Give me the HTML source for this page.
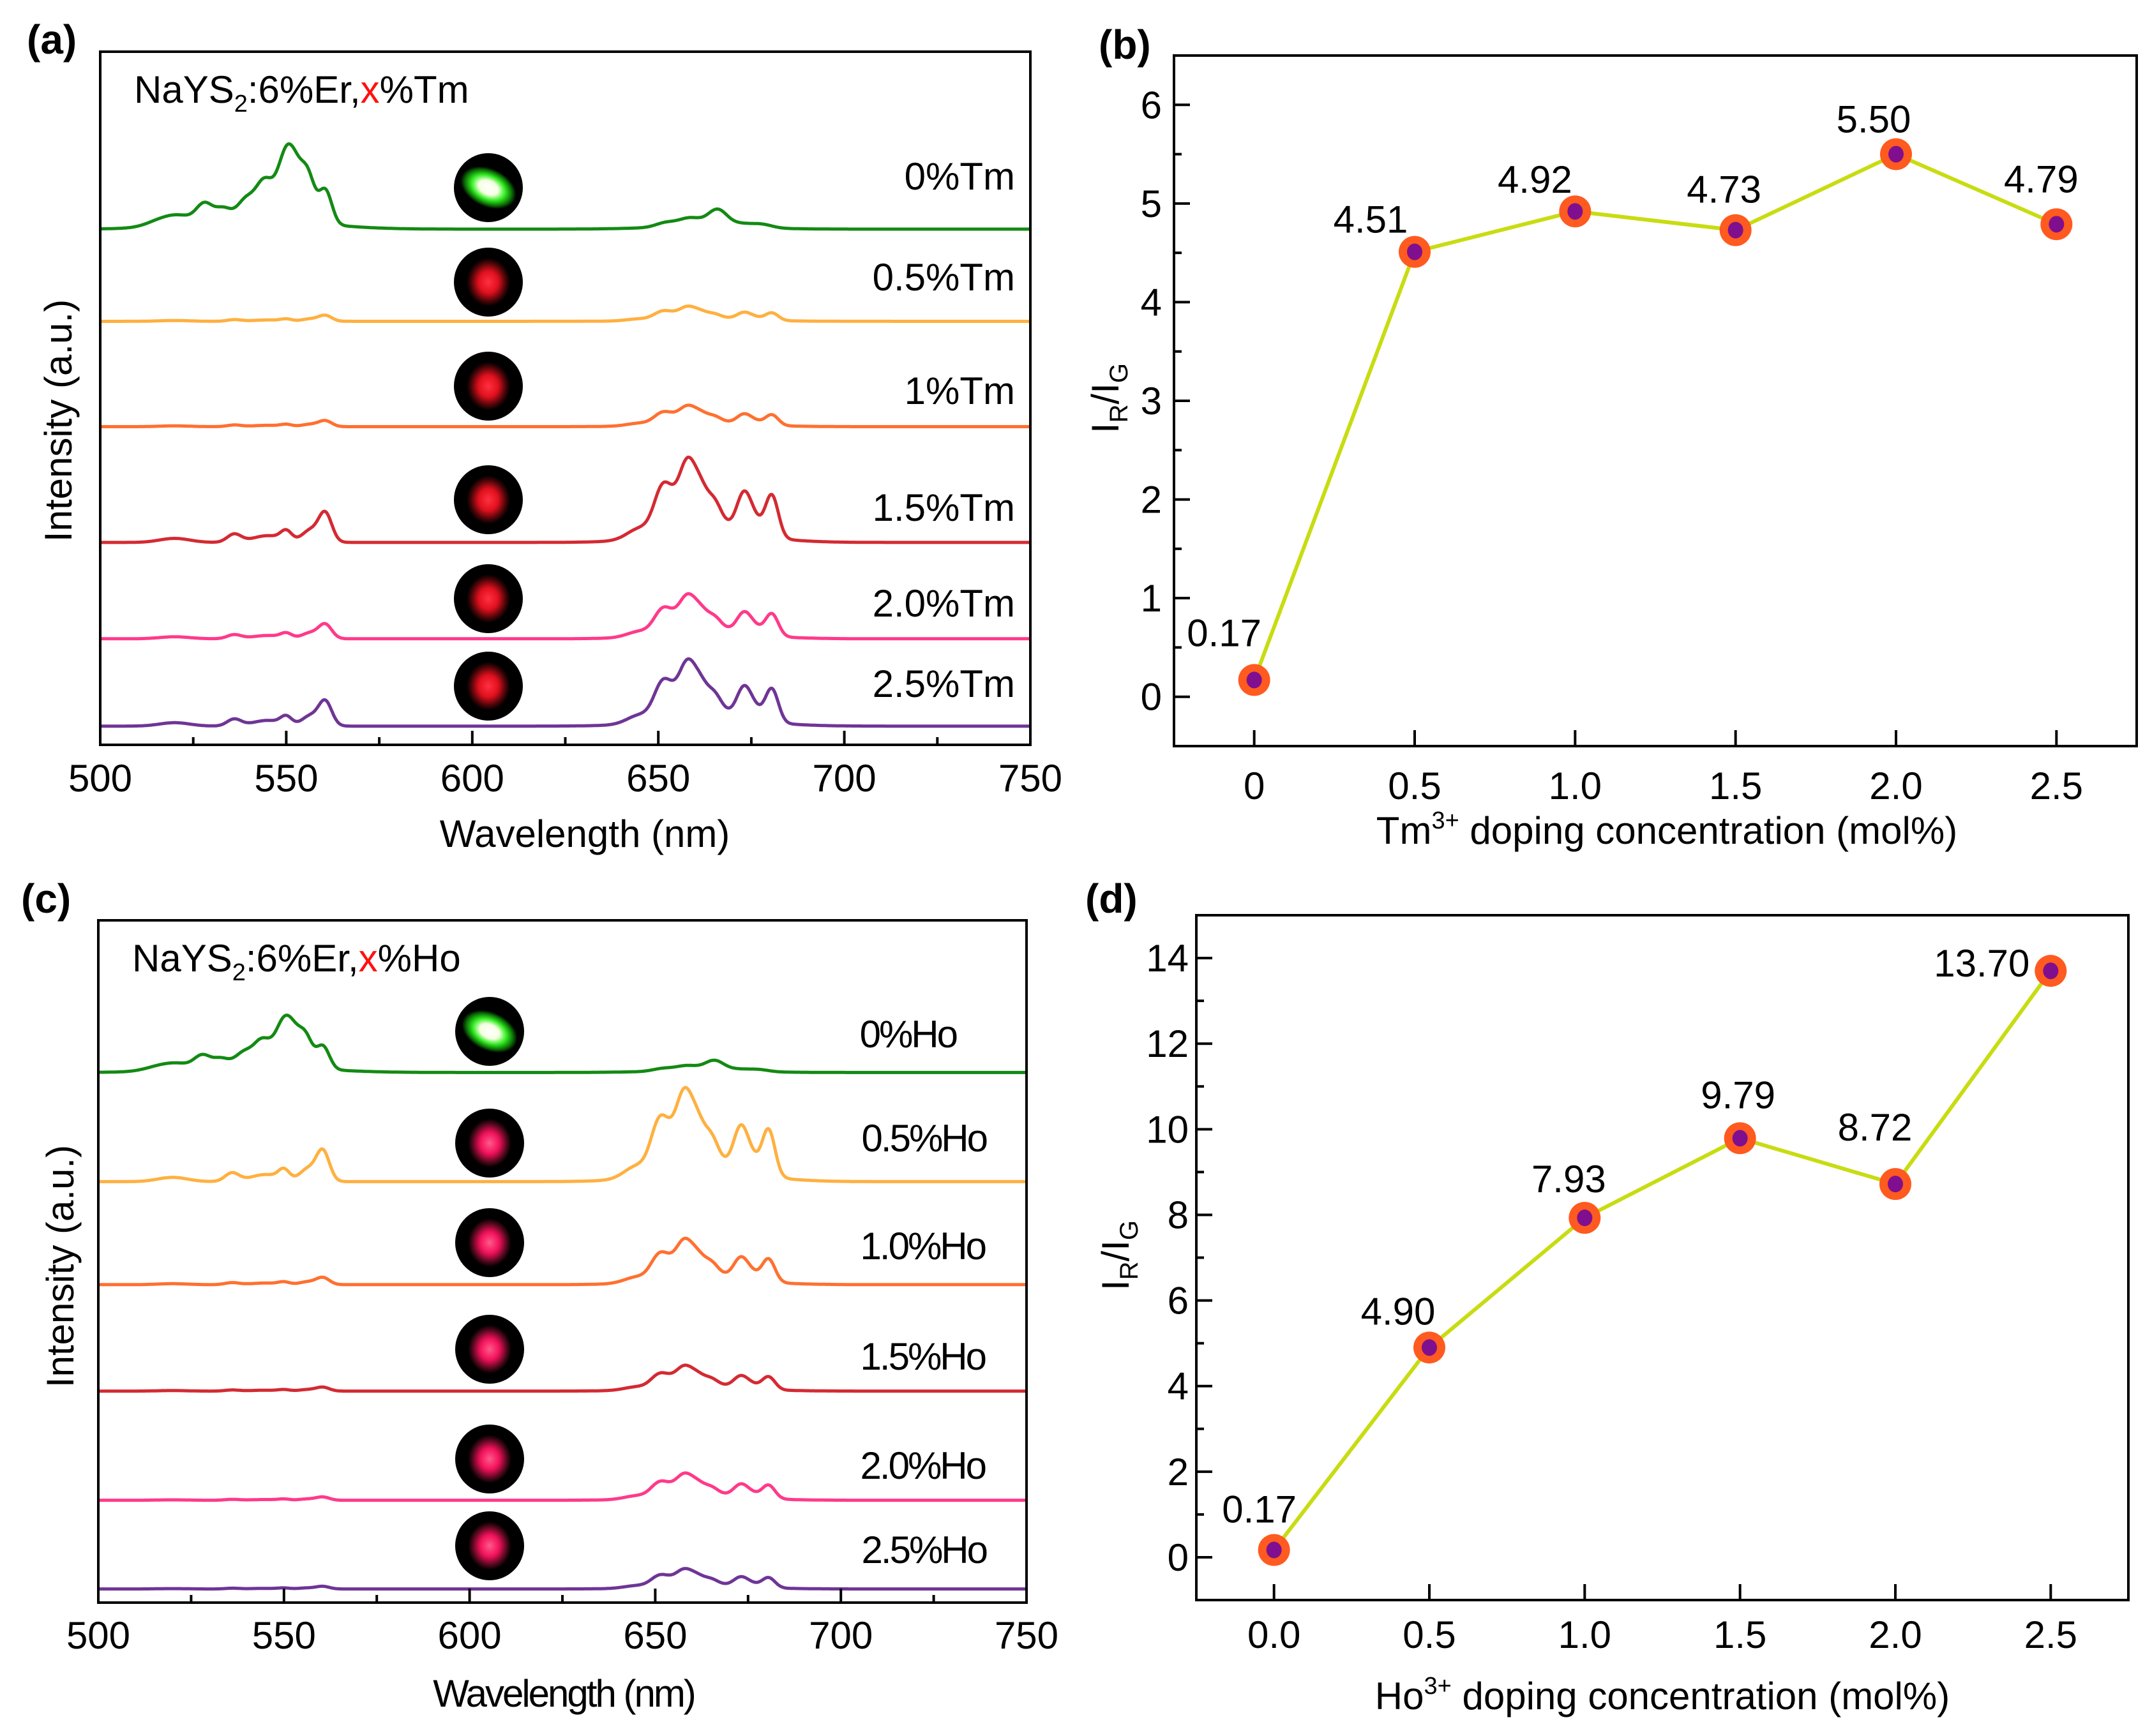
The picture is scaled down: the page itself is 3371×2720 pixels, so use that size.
<!DOCTYPE html>
<html><head><meta charset="utf-8"><style>
html,body{margin:0;padding:0;background:#fff;}
svg{display:block;font-family:"Liberation Sans",Arial,sans-serif;}
</style></head><body>
<svg id="fig" width="3371" height="2720" viewBox="0 0 3371 2720" xmlns="http://www.w3.org/2000/svg">
<defs>
<radialGradient id="gGreen" cx="50%" cy="50%" r="50%">
<stop offset="0" stop-color="#ffffff"/><stop offset="0.35" stop-color="#f4ffe0"/><stop offset="0.6" stop-color="#33ee22"/><stop offset="0.85" stop-color="#0a6a05"/><stop offset="1" stop-color="#000"/>
</radialGradient>
<radialGradient id="gRed" cx="50%" cy="50%" r="50%">
<stop offset="0" stop-color="#ff3040"/><stop offset="0.45" stop-color="#e0101e"/><stop offset="0.8" stop-color="#4a0508"/><stop offset="1" stop-color="#000"/>
</radialGradient>
<radialGradient id="gPink" cx="50%" cy="50%" r="50%">
<stop offset="0" stop-color="#ff5a8a"/><stop offset="0.45" stop-color="#f0105a"/><stop offset="0.8" stop-color="#50081c"/><stop offset="1" stop-color="#000"/>
</radialGradient>
</defs>
</svg>
<script>
// ---------- Panel a/c spectra data ----------
const waveTicks = [500, 550, 600, 650, 700, 750];
const tmLabels = ["0%Tm", "0.5%Tm", "1%Tm", "1.5%Tm", "2.0%Tm", "2.5%Tm"];
const tmBaseline = [74.4, 61.1, 45.9, 29.2, 15.3, 2.7];
const tmGreenAmp = [12.3, 0.9, 0.9, 4.5, 2.2, 3.8];
const tmRedAmp = [2.9, 2.2, 3.1, 12.3, 6.5, 9.7];
const tmType = ["G", "R", "R", "R", "R", "R"];
const hoLabels = ["0%Ho", "0.5%Ho", "1.0%Ho", "1.5%Ho", "2.0%Ho", "2.5%Ho"];
const hoBaseline = [77.7, 61.7, 46.6, 31.0, 15.0, 2.0];
const hoGreenAmp = [8.4, 4.8, 1.1, 0.6, 0.5, 0.4];
const hoRedAmp = [1.8, 13.8, 6.8, 3.8, 4.0, 3.0];
const hoType = ["G", "R", "R", "R", "R", "R"];
const specColors = ["#138a13", "#ffb040", "#ff7030", "#d42a32", "#ff3a8a", "#6e3596"];
// peak profiles: [center nm, relative height, sigma]
const greenProfileG = [[517,0.12,3],[522,0.1,2.5],[528,0.3,1.6],[533,0.2,1.6],[539,0.25,1.6],[544,0.4,1.6],[547,0.3,4],[550,0.8,1.6],[553,0.5,1.5],[556,0.6,1.3],[560.5,0.55,1.3],[542,0.15,12]];
const redProfileG = [[652,0.25,2],[658,0.3,2],[661,0.25,3],[666,0.85,1.8],[672,0.2,2.5],[678,0.18,2],[662,0.15,10]];
const greenProfileR = [[520,0.15,3],[536,0.3,1.4],[545,0.25,3],[550,0.35,1.1],[556,0.22,1.4],[557.5,0.25,2],[560.5,1.0,1.3]];
const redProfileR = [[645,0.16,2.5],[651,0.6,1.7],[654.5,0.35,2],[658,0.9,1.6],[661.5,0.5,1.4],[665,0.36,1.4],[668,0.12,2.5],[673,0.56,1.4],[676,0.2,1.4],[680.5,0.64,1.3],[664,0.14,10]];
const imgTypesTm = ["gGreen","gRed","gRed","gRed","gRed","gRed"];
const imgTypesHo = ["gGreen","gPink","gPink","gPink","gPink","gPink"];
const sigmaScale = 1.35;
// ---------- Panel b/d ratio data ----------
const concTicksB = ["0","0.5","1.0","1.5","2.0","2.5"];
const concTicksD = ["0.0","0.5","1.0","1.5","2.0","2.5"];
const concX = [0, 0.5, 1.0, 1.5, 2.0, 2.5];
const tmRatio = [0.17, 4.51, 4.92, 4.73, 5.50, 4.79];
const hoRatio = [0.17, 4.90, 7.93, 9.79, 8.72, 13.70];
const yTicksB = [0,1,2,3,4,5,6];
const yTicksD = [0,2,4,6,8,10,12,14];

const NS = "http://www.w3.org/2000/svg";
const svg = document.getElementById("fig");
function el(tag, attrs, parent, text){
  const e = document.createElementNS(NS, tag);
  for (const k in attrs) e.setAttribute(k, attrs[k]);
  if (text !== undefined) e.textContent = text;
  (parent || svg).appendChild(e);
  return e;
}
function gauss(x, p){ let s=0; for (const q of p){ const d=(x-q[0])/(q[2]*sigmaScale); s+=q[1]*Math.exp(-0.5*d*d);} return s; }

function spectraPanel(o){
  const g = el("g", {});
  
  
  const L=o.box[0], T=o.box[1], R=o.box[2], B=o.box[3];
  const xs = w => L + (w-500)/250*(R-L);
  const ys = v => B - v/100*(B-T);
  for (let i=0;i<o.base.length;i++){
    const gp = o.type[i]==="G" ? greenProfileG : greenProfileR;
    const rp = o.type[i]==="G" ? redProfileG : redProfileR;
    const gmax = Math.max(...Array.from({length:700},(_,k)=>gauss(505+k*0.1,gp)));
    const rmax = Math.max(...Array.from({length:700},(_,k)=>gauss(630+k*0.1,rp)));
    let d="";
    for (let w=500; w<=750; w+=0.25){
      const v = o.base[i] + o.gAmp[i]*gauss(w,gp)/gmax + o.rAmp[i]*gauss(w,rp)/rmax;
      d += (d?"L":"M")+xs(w).toFixed(1)+" "+ys(v).toFixed(1);
    }
    const p = el("path", {d:d, fill:"none", stroke:specColors[i], "stroke-width":5, "stroke-linejoin":"round"}, g);
    
    
    const c = el("circle", {cx:o.imgX, cy:o.imgY[i], r:54, fill:"#000"}, g);
    
    
    const glow = el("ellipse", {cx:o.imgX, cy:o.imgY[i], rx: o.imgT[i]==="gGreen"?46:34, ry: o.imgT[i]==="gGreen"?30:38, fill:"url(#"+o.imgT[i]+")", transform: o.imgT[i]==="gGreen"?("rotate(25 "+o.imgX+" "+o.imgY[i]+")"):""}, g);
    
    
    const t = el("text", {x:o.labX[i], y:o.labY[i]+21, "text-anchor":"end", "font-size":60, fill:"#000", "letter-spacing": o.ls}, g, o.labels[i]);
    
    
  }
  const box = el("rect", {x:L, y:T, width:R-L, height:B-T, fill:"none", stroke:"#000", "stroke-width":4}, g);
  
  
  for (let w=500; w<=750; w+=25){
    const major = (w%50===0);
    const tk = el("line", {x1:xs(w), x2:xs(w), y1:B, y2:B-(major?22:12), stroke:"#000", "stroke-width":4}, g);
    
    
  }
  for (const w of waveTicks){
    const t = el("text", {x:xs(w), y:o.tickY, "text-anchor":"middle", "font-size":60}, g, String(w));
    
    
  }
  const xt = el("text", {x:o.xtX, y:o.xtY, "text-anchor":"middle", "font-size":60, "letter-spacing":o.ls}, g, "Wavelength (nm)");
  
  
  const yt = el("text", {x:0, y:0, "text-anchor":"middle", "font-size":60, transform:"translate("+o.ytX+" "+o.ytY+") rotate(-90)"}, g, "Intensity (a.u.)");
  
  
  const pl = el("text", {x:o.plX, y:o.plY, "font-size":64, "font-weight":"bold"}, g, o.panel);
  
  
  const cmp = el("text", {x:L+53, y:o.cmpY, "font-size":60}, g);
  
  
  el("tspan", {}, cmp, "NaYS");
  el("tspan", {"font-size":38, dy:14}, cmp, "2");
  el("tspan", {dy:-14}, cmp, ":6%Er,");
  el("tspan", {fill:"#ff1010"}, cmp, "x");
  el("tspan", {}, cmp, o.dopant);
}

spectraPanel({name:"panel-a-spectra", panel:"(a)", box:[157,81,1614,1167], base:tmBaseline, gAmp:tmGreenAmp, rAmp:tmRedAmp, type:tmType, labels:tmLabels,
  imgX:765, imgY:[294,442,605,783,938,1075], imgT:imgTypesTm, labX:[1590,1590,1590,1590,1590,1590], labY:[276,434,612,795,945,1071],
  tickY:1240, xtX:916, xtY:1327, ytX:112, ytY:659, plX:42, plY:84, cmpY:161, dopant:"%Tm", ls:0});
spectraPanel({name:"panel-c-spectra", panel:"(c)", box:[154,1442,1608,2511], base:hoBaseline, gAmp:hoGreenAmp, rAmp:hoRedAmp, type:hoType, labels:hoLabels,
  imgX:767, imgY:[1616,1791,1947,2114,2286,2422], imgT:imgTypesHo, labX:[1498,1545,1543,1543,1543,1545], labY:[1620,1783,1952,2125,2296,2428],
  tickY:2583, xtX:883, xtY:2674, ytX:115, ytY:1984, plX:33, plY:1430, cmpY:1522, dopant:"%Ho", ls:-3});

function ratioPanel(o){
  const g = el("g", {});
  
  
  const L=o.box[0], T=o.box[1], R=o.box[2], B=o.box[3];
  const xs = v => L + (v-o.xr[0])/(o.xr[1]-o.xr[0])*(R-L);
  const ys = v => B - (v-o.yr[0])/(o.yr[1]-o.yr[0])*(B-T);
  const box = el("rect", {x:L, y:T, width:R-L, height:B-T, fill:"none", stroke:"#000", "stroke-width":4}, g);
  
  
  for (let v=o.yTicks[0]; v<=o.yTicks[o.yTicks.length-1]; v+=o.minor){
    const major = o.yTicks.includes(Math.round(v*100)/100);
    const tk = el("line", {x1:L, x2:L+(major?25:12), y1:ys(v), y2:ys(v), stroke:"#000", "stroke-width":4}, g);
    
    
  }
  const extra = o.yTicks[o.yTicks.length-1]+o.minor;
  if (extra < o.yr[1]) { const tk=el("line",{x1:L,x2:L+12,y1:ys(extra),y2:ys(extra),stroke:"#000","stroke-width":4},g);   }
  for (const v of o.yTicks){
    const t = el("text", {x:o.ylabX, y:ys(v)+21, "text-anchor":"end", "font-size":60}, g, String(v));
    
    
  }
  for (let i=0;i<concX.length;i++){
    const tk = el("line", {x1:xs(concX[i]), x2:xs(concX[i]), y1:B, y2:B-25, stroke:"#000", "stroke-width":4}, g);
    
    
    const t = el("text", {x:xs(concX[i]), y:o.tickY, "text-anchor":"middle", "font-size":60}, g, o.xTicks[i]);
    
    
  }
  const pts = concX.map((c,i)=>xs(c).toFixed(1)+","+ys(o.vals[i]).toFixed(1)).join(" ");
  const ln = el("polyline", {points:pts, fill:"none", stroke:"#c8dc12", "stroke-width":6}, g);
  
  
  for (let i=0;i<concX.length;i++){
    const cx=xs(concX[i]), cy=ys(o.vals[i]);
    const m = el("circle", {cx:cx, cy:cy, r:25, fill:"#ff5a1f"}, g);
    
    
    const m2 = el("ellipse", {cx:cx, cy:cy, rx:12, ry:13, fill:"#7f0f8f"}, g);
    
    
    const t = el("text", {x:cx+o.off[i][0], y:cy+o.off[i][1]+21, "text-anchor":"middle", "font-size":60}, g, o.vals[i].toFixed(2));
    
    
  }
  const xt = el("text", {x:o.xtX, y:o.xtY, "text-anchor":"middle", "font-size":60}, g);
  
  
  el("tspan", {}, xt, o.ion);
  el("tspan", {"font-size":38, dy:-24}, xt, "3+");
  el("tspan", {dy:24}, xt, " doping concentration (mol%)");
  const yt = el("text", {x:0, y:0, "text-anchor":"middle", "font-size":60, transform:"translate("+o.ytX+" "+o.ytY+") rotate(-90)"}, g);
  
  
  el("tspan", {}, yt, "I");
  el("tspan", {"font-size":40, dy:14}, yt, "R");
  el("tspan", {dy:-14}, yt, "/I");
  el("tspan", {"font-size":40, dy:14}, yt, "G");
  const pl = el("text", {x:o.plX, y:o.plY, "font-size":64, "font-weight":"bold"}, g, o.panel);
  
  
}
ratioPanel({name:"panel-b-ratio", panel:"(b)", box:[1839,87,3347,1169], xr:[-0.25,2.75], yr:[-0.5,6.5], yTicks:yTicksB, minor:0.5, vals:tmRatio, xTicks:concTicksB,
  off:[[-47,-74],[-69,-51],[-63,-50],[-18,-64],[-35,-55],[-24,-71]], ylabX:1820, tickY:1252, xtX:2611, xtY:1322, ytX:1752, ytY:624, plX:1721, plY:92, ion:"Tm"});
ratioPanel({name:"panel-d-ratio", panel:"(d)", box:[1874,1434,3334,2507], xr:[-0.25,2.75], yr:[-1,15], yTicks:yTicksD, minor:1, vals:hoRatio, xTicks:concTicksD,
  off:[[-23,-64],[-49,-57],[-25,-61],[-3,-68],[-32,-89],[-108,-12]], ylabX:1862, tickY:2582, xtX:2604, xtY:2678, ytX:1768, ytY:1967, plX:1700, plY:1430, ion:"Ho"});
</script>
</body></html>
